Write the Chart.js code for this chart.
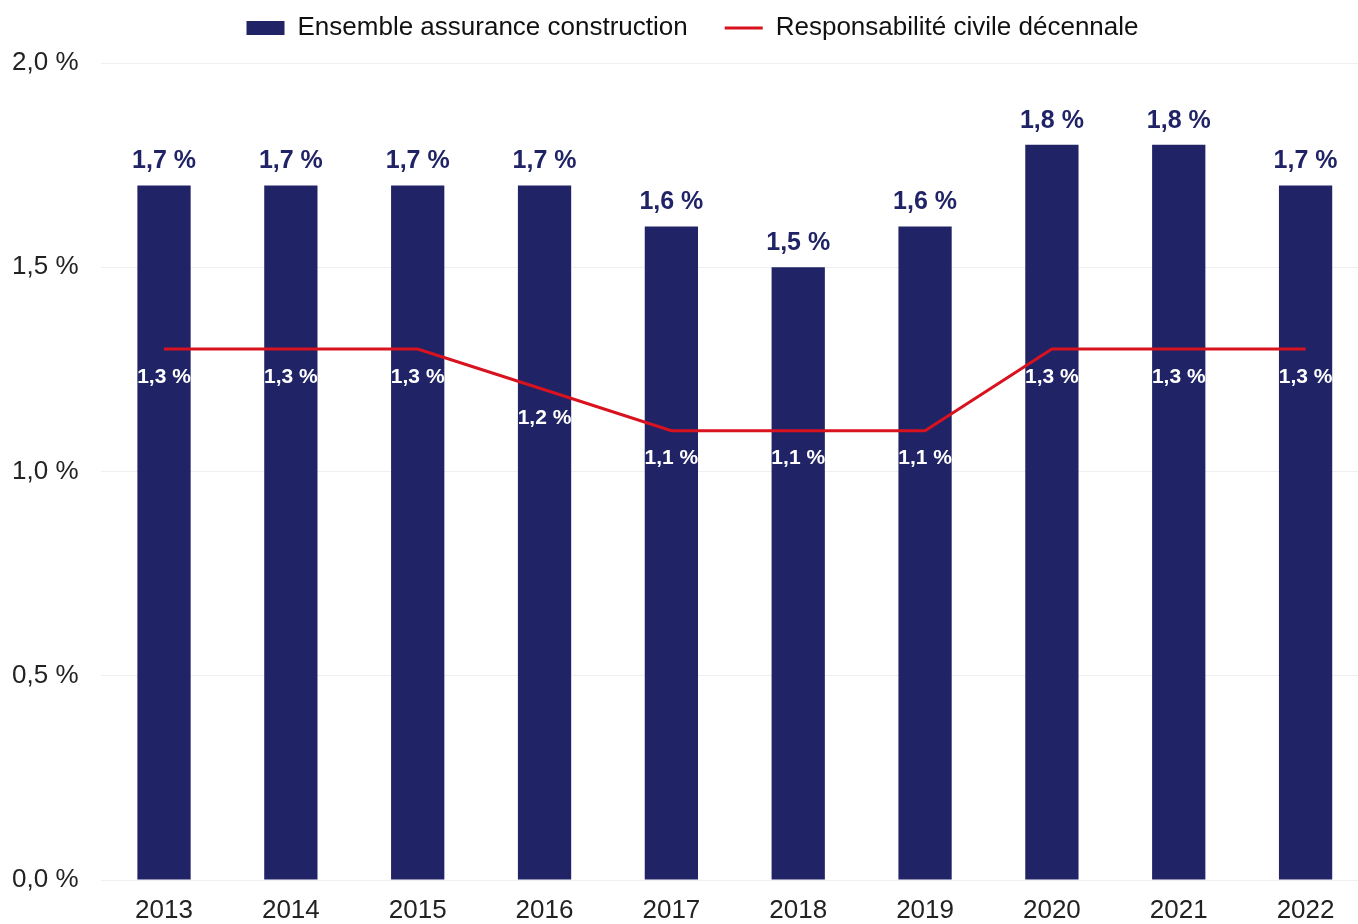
<!DOCTYPE html>
<html>
<head>
<meta charset="utf-8">
<script src="https://cdn.jsdelivr.net/npm/chart.js@4/dist/chart.umd.min.js"></script>
<style>
  body { margin: 0; background: #fff; overflow: hidden; }
  #wrap { width: 1358px; height: 924px; overflow: hidden; }
</style>
</head>
<body>
<div id="wrap"><canvas id="myChart" width="1372" height="924"></canvas></div>
<script>
// values
const years = ['2013', '2014', '2015', '2016', '2017', '2018', '2019', '2020', '2021', '2022'];
const ensembleConstruction = [1.7, 1.7, 1.7, 1.7, 1.6, 1.5, 1.6, 1.8, 1.8, 1.7];
const rcDecennale = [1.3, 1.3, 1.3, 1.2, 1.1, 1.1, 1.1, 1.3, 1.3, 1.3];

const navy = '#202366';
const red = '#d8121f';
const fontFamily = "'Liberation Sans', Arial, sans-serif";

function pct(v) {
  return v.toFixed(1).replace('.', ',') + ' %';
}

// labels drawn over the bars and under the line points
const valueLabels = {
  id: 'valueLabels',
  afterDatasetsDraw(chart) {
    const ctx = chart.ctx;
    ctx.save();
    ctx.textAlign = 'center';
    ctx.textBaseline = 'middle';
    chart.data.datasets.forEach((ds, i) => {
      const meta = chart.getDatasetMeta(i);
      meta.data.forEach((el, j) => {
        if (ds.type === 'bar') {
          ctx.fillStyle = navy;
          ctx.font = 'bold 25px ' + fontFamily;
          ctx.fillText(pct(ds.data[j]), el.x, el.y - 24);
        } else {
          ctx.fillStyle = '#ffffff';
          ctx.font = 'bold 21px ' + fontFamily;
          ctx.fillText(pct(ds.data[j]), el.x, el.y + 28);
        }
      });
    });
    ctx.restore();
  }
};

// extra room under the legend, and legend nudged a bit right
const legendSpace = {
  id: 'legendSpace',
  beforeInit(chart) {
    const fit = chart.legend.fit;
    chart.legend.fit = function () {
      fit.bind(chart.legend)();
      this.height += 12;
    };
  },
  beforeDraw(chart) {
    chart.legend.left = 16;
  }
};

const ctx = document.getElementById('myChart').getContext('2d');
const myChart = new Chart(ctx, {
  data: {
    labels: years,
    datasets: [
      {
        type: 'bar',
        label: 'Ensemble assurance construction',
        data: ensembleConstruction,
        backgroundColor: navy,
        borderWidth: 0,
        barPercentage: 0.42,
        categoryPercentage: 1,
        order: 2
      },
      {
        type: 'line',
        label: 'Responsabilité civile décennale',
        data: rcDecennale,
        borderColor: red,
        backgroundColor: red,
        borderWidth: 3,
        pointRadius: 0,
        tension: 0,
        order: 1
      }
    ]
  },
  plugins: [valueLabels, legendSpace],
  options: {
    responsive: false,
    animation: false,
    layout: { padding: { top: -22, right: 3, left: 0, bottom: 0 } },
    plugins: {
      tooltip: { enabled: false },
      legend: {
        position: 'top',
        labels: {
          font: { size: 26, family: fontFamily },
          color: '#111',
          usePointStyle: true,
          pointStyleWidth: 38,
          boxHeight: 14,
          padding: 37,
          sort: (a, b) => a.datasetIndex - b.datasetIndex,
          generateLabels(chart) {
            const items = Chart.defaults.plugins.legend.labels.generateLabels(chart);
            items.forEach(it => {
              if (it.datasetIndex === 0) {
                it.pointStyle = 'rect';
                it.lineWidth = 0;
              } else {
                it.pointStyle = 'line';
                it.strokeStyle = red;
                it.lineWidth = 3;
              }
            });
            return items;
          }
        }
      }
    },
    scales: {
      x: {
        afterFit(scale) { scale.height = 44; },
        grid: { display: false, drawTicks: false },
        border: { display: false },
        ticks: { font: { size: 26, family: fontFamily }, color: '#222', padding: 15 }
      },
      y: {
        min: 0,
        max: 2,
        afterFit(scale) { scale.width = 100.6; },
        grid: { color: '#efefef', drawTicks: false },
        border: { display: false },
        ticks: {
          stepSize: 0.5,
          padding: 22,
          font: { size: 26, family: fontFamily },
          color: '#222',
          callback: v => pct(v)
        }
      }
    }
  }
});
</script>
</body>
</html>
